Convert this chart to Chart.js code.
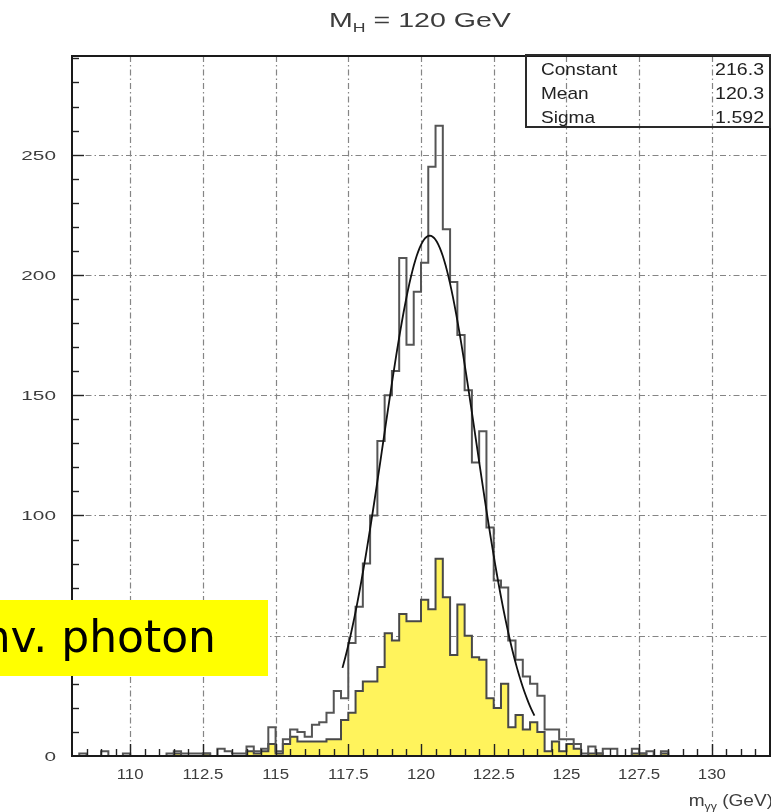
<!DOCTYPE html>
<html>
<head>
<meta charset="utf-8">
<script src="https://cdn.jsdelivr.net/npm/chart.js@4/dist/chart.umd.min.js"></script>
<style>
  html, body { margin: 0; padding: 0; background: #fff; overflow: hidden; }
  canvas { display: block; }
</style>
</head>
<body>
<canvas id="c" width="771" height="812"></canvas>
<script>
// Diphoton invariant mass for M_H = 120 GeV, 0.25 GeV bins from 108 to 132 GeV
const massMin = 108;
const massMax = 132;
const binWidth = 0.25;
const yMax = 291;

// all selected events, counts per bin (8 bins = 2 GeV per row)
const allEvents = [
  0, 1, 0, 0, 2, 0, 0, 1,            // 108 - 110
  0, 0, 0, 0, 0, 1, 2, 1,            // 110 - 112
  1, 1, 1, 0, 3, 2, 1, 1,            // 112 - 114
  4, 2, 3, 12, 2, 7, 11, 10,         // 114 - 116
  8, 13, 14, 18, 27, 24, 47, 62,     // 116 - 118
  80, 100, 131, 150, 160, 207, 171, 193, // 118 - 120
  205, 245, 262, 219, 197, 175, 152, 122, // 120 - 122
  135, 95, 73, 70, 48, 40, 33, 30,   // 122 - 124
  25, 11, 11, 7, 7, 5, 1, 4,         // 124 - 126
  1, 3, 3, 0, 0, 3, 1, 2,            // 126 - 128
  0, 2, 0, 0, 0, 0, 0, 0,            // 128 - 130
  0, 0, 0, 0, 0, 0, 0, 0             // 130 - 132
];

// events with a converted photon, counts per bin
const convEvents = [
  0, 0, 0, 0, 0, 0, 0, 0,            // 108 - 110
  0, 0, 0, 0, 0, 0, 1, 0,            // 110 - 112
  0, 0, 1, 0, 0, 0, 0, 0,            // 112 - 114
  2, 1, 2, 5, 1, 5, 8, 6,            // 114 - 116
  6, 6, 6, 7, 7, 15, 18, 27,         // 116 - 118
  31, 31, 37, 51, 48, 59, 56, 56,    // 118 - 120
  65, 61, 82, 66, 42, 63, 50, 41,    // 120 - 122
  40, 24, 20, 30, 12, 17, 11, 14,    // 122 - 124
  10, 2, 6, 2, 5, 3, 0, 1,           // 124 - 126
  1, 0, 0, 0, 0, 1, 1, 0,            // 126 - 128
  0, 1, 0, 0, 0, 0, 0, 0,            // 128 - 130
  0, 0, 0, 0, 0, 0, 0, 0             // 130 - 132
];

// Gaussian fit parameters and fit range
const fitConstant = 216.3;
const fitMean = 120.3;
const fitSigma = 1.592;
const fitRange = [117.3, 123.9];

// axis tick labels
const xTickValues = [110, 112.5, 115, 117.5, 120, 122.5, 125, 127.5, 130];
const yTickValues = [0, 50, 100, 150, 200, 250];

const FONT = '"Liberation Sans", Arial, sans-serif';
const TEXT = '#3c3c3c';

// histogram as stepped polyline: one point per bin low edge plus closing edge
function histPoints(counts) {
  const pts = counts.map((c, i) => ({ x: massMin + i * binWidth, y: c }));
  pts.push({ x: massMax, y: counts[counts.length - 1] });
  return pts;
}

function fitPoints() {
  const pts = [];
  const n = 132;
  for (let k = 0; k <= n; k++) {
    const m = fitRange[0] + (fitRange[1] - fitRange[0]) * k / n;
    const z = (m - fitMean) / fitSigma;
    pts.push({ x: m, y: fitConstant * Math.exp(-0.5 * z * z) });
  }
  return pts;
}

// text made of runs (for subscripts), with a horizontal stretch factor
function drawRuns(ctx, runs, x, y, align, sx) {
  ctx.save();
  let total = 0;
  const widths = runs.map(r => {
    ctx.font = `${r.size}px ${r.family || FONT}`;
    const w = ctx.measureText(r.text).width;
    total += w;
    return w;
  });
  let cx = align === 'center' ? -total / 2 : (align === 'right' ? -total : 0);
  ctx.translate(x, y);
  ctx.scale(sx, 1);
  ctx.textAlign = 'left';
  ctx.textBaseline = 'alphabetic';
  runs.forEach((r, i) => {
    ctx.font = `${r.size}px ${r.family || FONT}`;
    ctx.fillStyle = r.color || TEXT;
    ctx.fillText(r.text, cx, r.dy || 0);
    cx += widths[i];
  });
  ctx.restore();
}

const paperPlugin = {
  id: 'paper',
  beforeDraw(chart) {
    const ctx = chart.ctx;
    ctx.save();
    ctx.fillStyle = '#fff';
    ctx.fillRect(0, 0, chart.width, chart.height);
    ctx.restore();
  },
  beforeDatasetsDraw(chart) {
    const { ctx, chartArea: a, scales: { x, y } } = chart;
    ctx.save();
    ctx.strokeStyle = '#858585';
    ctx.lineWidth = 1.2;
    ctx.setLineDash([6, 3, 1.5, 3]);
    x.ticks.forEach(t => {
      const px = Math.round(x.getPixelForValue(t.value)) + 0.5;
      ctx.beginPath(); ctx.moveTo(px, a.top); ctx.lineTo(px, a.bottom); ctx.stroke();
    });
    y.ticks.forEach(t => {
      if (t.value === 0) return;
      const py = Math.round(y.getPixelForValue(t.value)) + 0.5;
      ctx.beginPath(); ctx.moveTo(a.left, py); ctx.lineTo(a.right, py); ctx.stroke();
    });
    ctx.restore();
  },
  afterDatasetsDraw(chart) {
    const { ctx, chartArea: a, scales: { x, y } } = chart;
    ctx.save();

    // tick marks pointing into the frame
    ctx.strokeStyle = '#222';
    ctx.lineWidth = 1.4;
    for (let v = massMin + 0.5; v < massMax; v += 0.5) {
      const px = Math.round(x.getPixelForValue(v)) + 0.5;
      const major = xTickValues.includes(v);
      ctx.beginPath(); ctx.moveTo(px, a.bottom); ctx.lineTo(px, a.bottom - (major ? 12 : 7)); ctx.stroke();
    }
    for (let v = 10; v < yMax; v += 10) {
      const py = Math.round(y.getPixelForValue(v)) + 0.5;
      const major = v % 50 === 0;
      ctx.beginPath(); ctx.moveTo(a.left, py); ctx.lineTo(a.left + (major ? 12 : 7), py); ctx.stroke();
    }

    // frame
    ctx.strokeStyle = '#1a1a1a';
    ctx.lineWidth = 2;
    ctx.strokeRect(a.left, a.top, a.right - a.left, a.bottom - a.top);

    // tick labels
    x.ticks.forEach(t => {
      drawRuns(ctx, [{ text: String(t.value), size: 15 }], x.getPixelForValue(t.value), a.bottom + 23, 'center', 1.12);
    });
    y.ticks.forEach(t => {
      drawRuns(ctx, [{ text: String(t.value), size: 13 }], a.left - 16, y.getPixelForValue(t.value) + 5, 'right', 1.6);
    });

    // title
    drawRuns(ctx, [
      { text: 'M', size: 21 },
      { text: 'H', size: 13, dy: 5 },
      { text: ' = 120 GeV', size: 21 }
    ], 420, 27, 'center', 1.36);

    // axis title
    drawRuns(ctx, [
      { text: 'm', size: 17 },
      { text: 'γγ', size: 11, dy: 4 },
      { text: ' (GeV)', size: 17 }
    ], 773, 806, 'right', 1.12);

    // fit statistics box
    const bx = 526, by = 55, bw = a.right - bx, bh = 72;
    ctx.strokeStyle = '#2a2a2a';
    ctx.lineWidth = 2;
    ctx.strokeRect(bx, by, bw, bh);
    const rows = [['Constant', fitConstant.toFixed(1)], ['Mean', fitMean.toFixed(1)], ['Sigma', fitSigma.toFixed(3)]];
    rows.forEach((r, i) => {
      const base = by + 20 + i * 24;
      drawRuns(ctx, [{ text: r[0], size: 17, color: '#222' }], bx + 15, base, 'left', 1.12);
      drawRuns(ctx, [{ text: r[1], size: 17, color: '#222' }], a.right - 6, base, 'right', 1.15);
    });

    // dataset label
    ctx.fillStyle = '#ffff00';
    ctx.fillRect(0, 600, 268, 76);
    ctx.fillStyle = '#000';
    ctx.font = '44px "DejaVu Sans", Verdana, sans-serif';
    ctx.textAlign = 'right';
    ctx.textBaseline = 'alphabetic';
    ctx.fillText('conv. photon', 216, 652);

    ctx.restore();
  }
};

new Chart(document.getElementById('c'), {
  type: 'line',
  data: {
    datasets: [
      {
        label: 'conv. photon',
        data: histPoints(convEvents),
        stepped: true,
        fill: 'origin',
        backgroundColor: 'rgb(255, 243, 92)',
        borderColor: '#484848',
        borderWidth: 2,
        pointRadius: 0,
        order: 3
      },
      {
        label: 'all events',
        data: histPoints(allEvents),
        stepped: true,
        fill: false,
        borderColor: '#555555',
        borderWidth: 2,
        pointRadius: 0,
        order: 2
      },
      {
        label: 'Gaussian fit',
        data: fitPoints(),
        fill: false,
        borderColor: '#111111',
        borderWidth: 1.8,
        pointRadius: 0,
        tension: 0,
        order: 1
      }
    ]
  },
  options: {
    responsive: false,
    animation: false,
    devicePixelRatio: 1,
    layout: { padding: { top: 56, right: 1, left: 0, bottom: 0 } },
    plugins: { legend: { display: false }, tooltip: { enabled: false }, title: { display: false } },
    scales: {
      x: {
        type: 'linear',
        min: massMin,
        max: massMax,
        grid: { display: false },
        border: { display: false },
        ticks: { display: false },
        afterBuildTicks: s => { s.ticks = xTickValues.map(v => ({ value: v })); },
        afterFit: s => { s.height = 56; }
      },
      y: {
        type: 'linear',
        min: 0,
        max: yMax,
        grid: { display: false },
        border: { display: false },
        ticks: { display: false },
        afterBuildTicks: s => { s.ticks = yTickValues.map(v => ({ value: v })); },
        afterFit: s => { s.width = 72; }
      }
    }
  },
  plugins: [paperPlugin]
});
</script>
</body>
</html>
